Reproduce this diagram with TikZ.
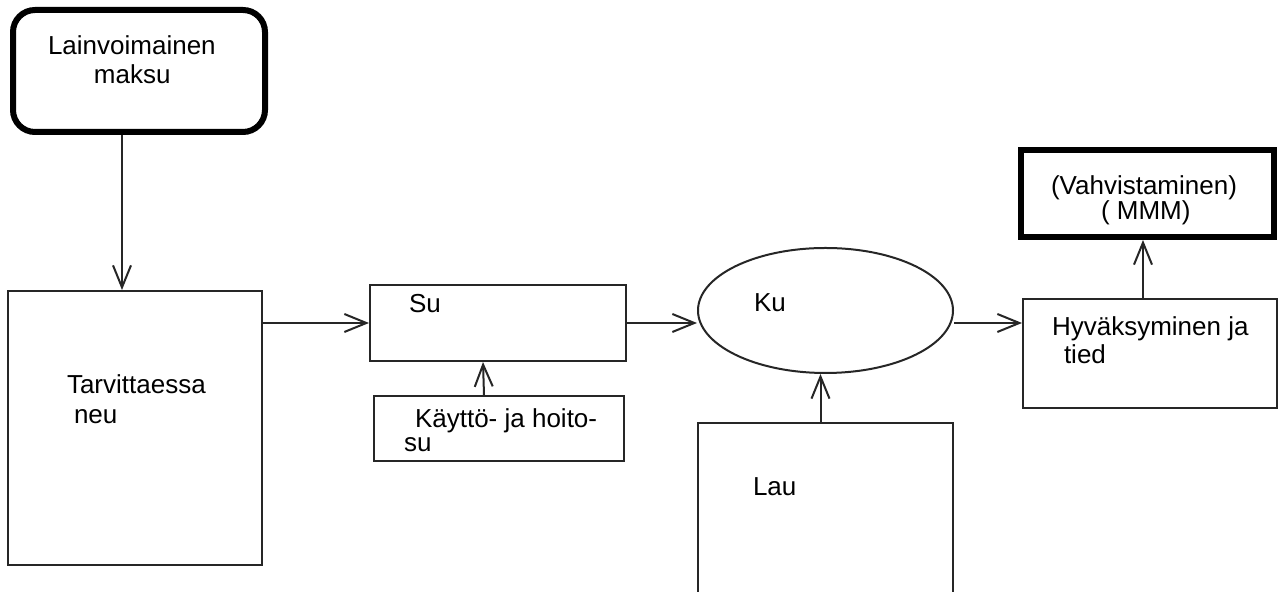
\documentclass[tikz,border=0pt]{standalone}
\usepackage{fontspec}
\setmainfont{Liberation Sans}
\usetikzlibrary{arrows.meta,shapes.geometric}
\begin{document}
\begin{tikzpicture}[x=0.1mm,y=-0.1mm,
  line width=0.2mm, draw=black!85,
  box/.style={draw, rectangle, inner sep=0pt},
  heavybox/.style={box, line width=0.6mm, draw=black},
  oval/.style={draw, ellipse, inner sep=0pt},
  txt/.style={anchor=base west, inner sep=0pt, font=\fontsize{7.4}{9}\selectfont},
  arr/.style={-{Straight Barb[length=2.2mm,width=1.8mm]}}]
\useasboundingbox (0,0) rectangle (1280,592);
\fill[white] (0,0) rectangle (1280,592);

% boxes
\node[heavybox, rounded corners=2.2mm, minimum width=25.2mm, minimum height=12.2mm] (lain) at (139,71) {};
\node[box, minimum width=25.4mm, minimum height=27.4mm] (tarv) at (135,428) {};
\node[box, minimum width=25.6mm, minimum height=7.6mm] (su) at (498,323) {};
\node[box, minimum width=25mm, minimum height=6.5mm] (kay) at (499,428.5) {};
\node[oval, minimum width=25.5mm, minimum height=12.5mm] (ku) at (825.5,310.5) {};
\node[box, minimum width=25.5mm, minimum height=18.7mm] (lau) at (825.5,516.5) {};
\node[box, minimum width=25.4mm, minimum height=10.9mm] (hyv) at (1150,353.5) {};
\node[heavybox, minimum width=25.3mm, minimum height=8.7mm] (vahv) at (1147.5,193.5) {};

% labels
\node[txt] (t1) at (47,55) {Lainvoimainen};
\node[txt] (t2) at (93,84) {maksu};
\node[txt] (t3) at (66,394) {Tarvittaessa};
\node[txt] (t4) at (73,424) {neu};
\node[txt] (t5) at (408,313) {Su};
\node[txt] (t6) at (414,428) {Käyttö- ja hoito-};
\node[txt] (t7) at (403,452) {su};
\node[txt] (t8) at (753,312) {Ku};
\node[txt] (t9) at (752,496) {Lau};
\node[txt] (t10) at (1051,336) {Hyväksyminen ja};
\node[txt] (t11) at (1063,364) {tied};
\node[txt] (t12) at (1050,195) {(Vahvistaminen)};
\node[txt] (t13) at (1100,220) {( MMM)};

% connectors
\coordinate (c1) at (122,135);
\draw[arr] (c1) -- (c1 |- tarv.north);
\draw[arr] (tarv.east |- su.west) -- (su.west);
\draw[arr] ([xshift=-1.5mm]kay.north) -- ([xshift=-1.5mm]su.south);
\draw[arr] (su.east) -- (ku.west |- su.east);
\draw[arr] (ku.east |- su.east) -- (hyv.west |- su.east);
\draw[arr] ([xshift=-0.5mm]lau.north) -- ([xshift=-0.5mm]ku.south);
\coordinate (c2) at (1143,299);
\draw[arr] (c2) -- (c2 |- vahv.south);
\end{tikzpicture}
\end{document}
